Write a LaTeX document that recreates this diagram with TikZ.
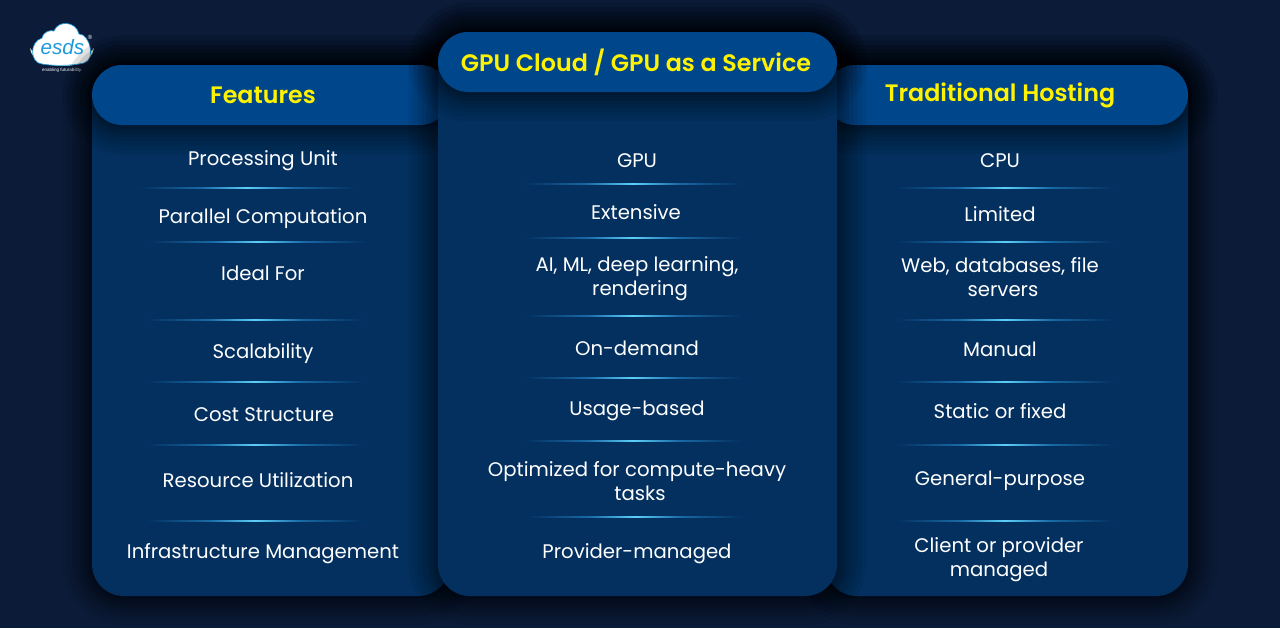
\documentclass[tikz,border=0pt]{standalone}
\usepackage{fontspec}
\setmainfont[BoldFont={Poppins SemiBold}]{Poppins}
\newfontfamily\logofont{Liberation Sans}
\definecolor{pagebg}{HTML}{0B1B38}
\definecolor{panelblue}{HTML}{03305F}
\definecolor{headblue}{HTML}{00468A}
\definecolor{glowblue}{HTML}{1A6AA6}
\definecolor{glowcyan}{HTML}{5CD0FA}
\definecolor{logoblue}{HTML}{1E9ADB}
\definecolor{leafgreen}{HTML}{CFE8D2}
\pgfdeclarehorizontalshading{glowshade}{100bp}{color(0bp)=(panelblue); color(26bp)=(panelblue); color(40bp)=(glowblue); color(50bp)=(glowcyan); color(60bp)=(glowblue); color(74bp)=(panelblue); color(100bp)=(panelblue)}

\begin{document}
\begin{tikzpicture}[x=0.75pt,y=-0.75pt]
\tikzset{softshadow/.style={preaction={draw=black,draw opacity=.06,line width=44pt},
    preaction={draw=black,draw opacity=.06,line width=37pt},
    preaction={draw=black,draw opacity=.07,line width=30pt},
    preaction={draw=black,draw opacity=.07,line width=24pt},
    preaction={draw=black,draw opacity=.08,line width=18pt},
    preaction={draw=black,draw opacity=.08,line width=13pt},
    preaction={draw=black,draw opacity=.08,line width=8pt},
    preaction={draw=black,draw opacity=.08,line width=4pt}}}
\tikzset{panelbox/.style={softshadow, fill=panelblue, rounded corners=24pt, inner sep=0pt, minimum height=398.25pt}}
\tikzset{headbox/.style={softshadow, fill=headblue, rounded corners=22.5pt, inner sep=0pt, minimum height=45pt}}
\tikzset{headtext/.style={text=yellow, inner sep=0pt, text height=17.5pt, text depth=4pt, font=\fontsize{17.85}{21}\selectfont\bfseries}}
\tikzset{rowtext/.style={text=white, inner sep=0pt, text height=14pt, text depth=3.5pt, font=\fontsize{14.75}{18}\selectfont}}
\tikzset{twolines/.style={text=white, inner sep=0pt, align=center, font=\fontsize{14.75}{18}\selectfont}}
\tikzset{glowline/.style={shading=glowshade, inner sep=0pt, minimum height=1.1pt, minimum width=170pt}}
\useasboundingbox (0,0) rectangle (1280,628);
\fill[pagebg] (0,0) rectangle (1280,628);
% logo
\fill[leafgreen] (30,48) .. controls (31,62) and (50,66) .. (62,66) .. controls (76,66) and (92,62) .. (94,48) .. controls (88,60) and (36,60) .. cycle;
\draw[fill=white, draw=logoblue, line width=0.5pt] (42,64) .. controls (30,63) and (29,42) .. (42,38) .. controls (44,31) and (50,30) .. (54,31) .. controls (58,20) and (76,21) .. (79,34) .. controls (90,34) and (96,60) .. (84,63) .. controls (70,66) and (54,66) .. (42,64) -- cycle;
\node[text=logoblue, inner sep=0pt, font=\logofont\itshape\fontsize{15.5}{18}\selectfont] (ESDS) at (62.5,47) {esds};
\node[text=white, inner sep=0pt, font=\logofont\fontsize{3.4}{4}\selectfont] (TAG) at (62,70) {enabling futurability.};
\node[text=white, inner sep=0pt, font=\logofont\fontsize{4.5}{5}\selectfont] (REG) at (90,37) {®};
% side columns
\node[panelbox, minimum width=268.5pt] (PANELF) at (271,330.5) {};
\node[panelbox, minimum width=272.25pt] (PANELT) at (1006.5,330.5) {};
\node[headbox, minimum width=268.5pt] (HEADF) at (271,95) {};
\node[headbox, minimum width=272.25pt] (HEADT) at (1006.5,95) {};
\node[headtext] (TITLEF) at (263,94) {Features};
\node[headtext] (TITLET) at (1000,92) {Traditional Hosting};
% centre column
\node[panelbox, minimum width=299.25pt, minimum height=423pt] (PANELG) at (637.5,314) {};
\node[headbox, minimum width=299.25pt] (HEADG) at (637.5,62) {};
\node[headtext] (TITLEG) at (636,62) {GPU Cloud / GPU as a Service};
% features
\node[rowtext] (F1) at (263,158) {Processing Unit};
\node[rowtext] (F2) at (263,216) {Parallel Computation};
\node[rowtext] (F3) at (263,273) {Ideal For};
\node[rowtext] (F4) at (263,351) {Scalability};
\node[rowtext] (F5) at (264,414) {Cost Structure};
\node[rowtext] (F6) at (258,480) {Resource Utilization};
\node[rowtext] (F7) at (263,551) {Infrastructure Management};
\node[glowline] (SF1) at (247,188) {};
\node[glowline] (SF2) at (258,242) {};
\node[glowline] (SF3) at (255,320) {};
\node[glowline] (SF4) at (255,382) {};
\node[glowline] (SF5) at (255,445) {};
\node[glowline] (SF6) at (255,521) {};
% gpu cloud
\node[rowtext] (G1) at (637,160) {GPU};
\node[rowtext] (G2) at (636,212) {Extensive};
\node[twolines] (G3) at (637,279) {AI, ML, deep learning,\\\hspace*{4.5pt}rendering};
\node[rowtext] (G4) at (637,348) {On-demand};
\node[rowtext] (G5) at (637,408) {Usage-based};
\node[twolines] (G6) at (637,481) {Optimized for compute-heavy\\\hspace*{4.5pt}tasks};
\node[rowtext] (G7) at (637,551) {Provider-managed};
\node[glowline] (SG1) at (633,184) {};
\node[glowline] (SG2) at (633,238) {};
\node[glowline] (SG3) at (633,316) {};
\node[glowline] (SG4) at (633,378) {};
\node[glowline] (SG5) at (633,441) {};
\node[glowline] (SG6) at (635,517) {};
% traditional hosting
\node[rowtext] (T1) at (1000,160) {CPU};
\node[rowtext] (T2) at (1000,214) {Limited};
\node[twolines] (T3) at (1000,277) {Web, databases, file\\\hspace*{4.5pt}servers};
\node[rowtext] (T4) at (1000,349) {Manual};
\node[rowtext] (T5) at (1000,411) {Static or fixed};
\node[rowtext] (T6) at (1000,478) {General-purpose};
\node[twolines] (T7) at (999,560) {Client or provider\\managed};
\node[glowline] (ST1) at (1005,188) {};
\node[glowline] (ST2) at (1005,242) {};
\node[glowline] (ST3) at (1005,320) {};
\node[glowline] (ST4) at (1005,382) {};
\node[glowline] (ST5) at (1005,445) {};
\node[glowline] (ST6) at (1005,521) {};
\end{tikzpicture}
\end{document}
